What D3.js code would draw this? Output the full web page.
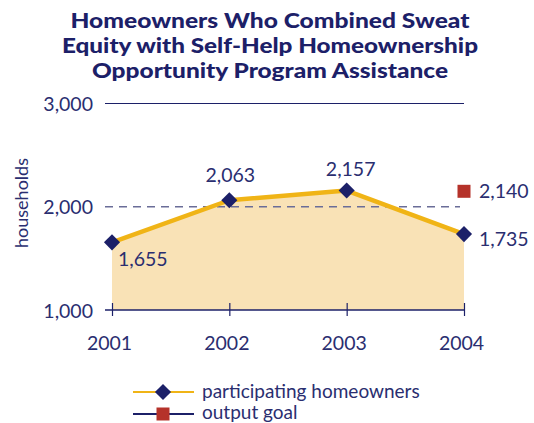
<!DOCTYPE html>
<html><head><meta charset="utf-8">
<script src="https://cdn.jsdelivr.net/npm/d3@7"></script>
<style>body{margin:0;background:#fff}svg{display:block}</style>
</head><body>
<svg id="c" width="534" height="423"></svg>
<script>
const years = ["2001","2002","2003","2004"];
const participating = [1655, 2063, 2157, 1735];
const goalYear = "2004";
const goalValue = 2140;
const yTicks = [1000, 2000, 3000];
const titleLines = ["Homeowners Who Combined Sweat","Equity with Self-Help Homeownership","Opportunity Program Assistance"];
const legendLabels = ["participating homeowners","output goal"];

const navy = "#1c2068", yellow = "#f0b416", fillC = "#f9e2b6", red = "#b5322a", textC = "#2a2e70";
const svg = d3.select("#c");
const font = "Lato, 'DejaVu Sans', sans-serif";
const titleWidths = [399, 416, 356];

const x = d3.scalePoint().domain(years).range([112, 464]);
const y = d3.scaleLinear().domain([1000, 3000]).range([310, 103.5]);

// title
svg.append("g").selectAll("text").data(titleLines).join("text")
  .attr("x", 270).attr("y", (d,i)=>28+i*25)
  .attr("text-anchor","middle").attr("font-family",font).attr("font-weight",900)
  .attr("font-size",21).attr("fill",navy)
  .attr("textLength",(d,i)=>titleWidths[i]).attr("lengthAdjust","spacingAndGlyphs")
  .text(d=>d);

// area
const area = d3.area().x((d,i)=>x(years[i])).y0(y(1000)).y1(d=>y(d));
svg.append("path").datum(participating).attr("d",area).attr("fill",fillC);

// gridlines
svg.append("line").attr("x1",105).attr("x2",464).attr("y1",y(3000)).attr("y2",y(3000))
  .attr("stroke",navy).attr("stroke-width",1.2);
svg.append("line").attr("x1",105).attr("x2",460).attr("y1",y(2000)).attr("y2",y(2000))
  .attr("stroke","#6a6d98").attr("stroke-width",1.4).attr("stroke-dasharray","8,6");

// x axis
const xAxis = d3.axisBottom(x).tickSize(0).tickPadding(0);
const gx = svg.append("g").attr("transform",`translate(0,${y(1000)})`).call(xAxis);
gx.select(".domain").remove();
gx.append("line").attr("x1",105).attr("x2",464).attr("stroke",navy).attr("stroke-width",1.4);
gx.selectAll(".tick").append("line").attr("y1",-7).attr("y2",6).attr("stroke",navy).attr("stroke-width",1.2);
gx.selectAll(".tick text").attr("y",40).attr("x",-3).attr("dy",null).attr("font-family",font).attr("font-size",19.5).attr("fill",textC);

// y axis labels
const yAxis = d3.axisLeft(y).tickValues(yTicks).tickSize(0).tickPadding(0).tickFormat(d3.format(","));
const gy = svg.append("g").attr("transform","translate(93,0)").call(yAxis);
gy.select(".domain").remove();
gy.selectAll(".tick text").attr("dy","0.36em").attr("font-family",font).attr("font-size",19.5).attr("fill",textC);

svg.append("text").attr("transform","translate(28,203) rotate(-90)").attr("text-anchor","middle")
  .attr("font-family",font).attr("font-size",18).attr("fill",textC).text("households");

// line
const line = d3.line().x((d,i)=>x(years[i])).y(d=>y(d));
svg.append("path").datum(participating).attr("d",line).attr("fill","none")
  .attr("stroke",yellow).attr("stroke-width",4.5).attr("stroke-linejoin","round");

// diamonds
const diamond = d3.symbol().type(d3.symbolSquare).size(130);
svg.append("g").selectAll("path").data(participating).join("path")
  .attr("d",diamond())
  .attr("transform",(d,i)=>`translate(${x(years[i])},${y(d)}) rotate(45)`)
  .attr("fill",navy);

// goal square
svg.append("rect").attr("x",x(goalYear)-6.5).attr("y",y(goalValue)-7.5).attr("width",13).attr("height",13).attr("fill",red);

// value labels
const fmt = d3.format(",");
const labelPos = [
  {dx:6, dy:24, anchor:"start"},
  {dx:1, dy:-18, anchor:"middle"},
  {dx:4, dy:-15, anchor:"middle"},
  {dx:15, dy:12, anchor:"start"}
];
svg.append("g").selectAll("text").data(participating).join("text")
  .attr("x",(d,i)=>x(years[i])+labelPos[i].dx).attr("y",(d,i)=>y(d)+labelPos[i].dy)
  .attr("text-anchor",(d,i)=>labelPos[i].anchor)
  .attr("font-family",font).attr("font-size",19.5).attr("fill",textC).text(d=>fmt(d));
svg.append("text").attr("x",x(goalYear)+15).attr("y",y(goalValue)+6).attr("font-family",font)
  .attr("font-size",19.5).attr("fill",textC).text(fmt(goalValue));

// legend
const lg = svg.append("g");
lg.append("line").attr("x1",133).attr("x2",194).attr("y1",392).attr("y2",392).attr("stroke",yellow).attr("stroke-width",2);
lg.append("path").attr("d",diamond()).attr("transform","translate(163,392) rotate(45)").attr("fill",navy);
lg.append("line").attr("x1",133).attr("x2",194).attr("y1",414).attr("y2",414).attr("stroke",navy).attr("stroke-width",2);
lg.append("rect").attr("x",156.5).attr("y",407.5).attr("width",13).attr("height",13).attr("fill",red);
lg.selectAll("text").data(legendLabels).join("text")
  .attr("x",202).attr("y",(d,i)=>398+i*21).attr("font-family",font).attr("font-size",19).attr("fill",textC).text(d=>d);
</script>
</body></html>
